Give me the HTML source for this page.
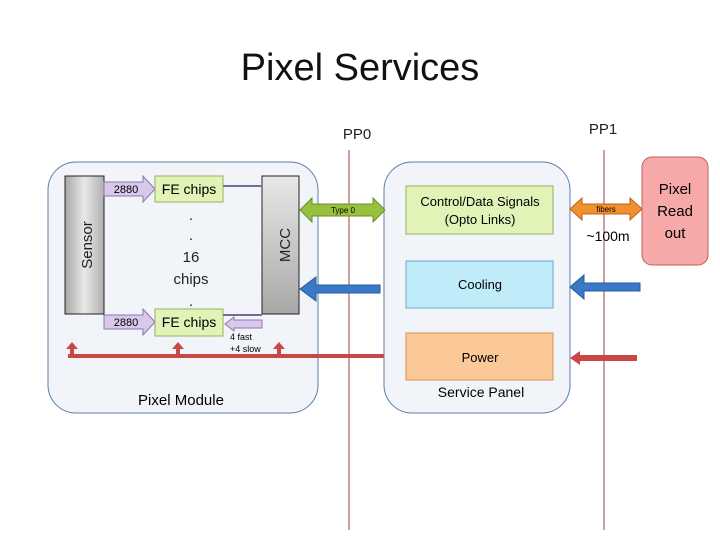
<!DOCTYPE html>
<html><head><meta charset="utf-8"><style>
body{margin:0;background:#fff}
svg text{font-family:"Liberation Sans",sans-serif}
</style></head><body>
<svg width="720" height="540" xmlns="http://www.w3.org/2000/svg">
<defs>
<linearGradient id="g" x1="0" x2="1"><stop offset="0" stop-color="#a8a8a8"/><stop offset=".5" stop-color="#e8e8e8"/><stop offset="1" stop-color="#b0b0b0"/></linearGradient>
<linearGradient id="gv" x1="0" y1="0" x2="0" y2="1"><stop offset="0" stop-color="#e8e8e8"/><stop offset="1" stop-color="#a8a8a8"/></linearGradient>
</defs>
<text x="360" y="80" font-size="38" text-anchor="middle" fill="#111">Pixel Services</text>
<text x="357" y="139" font-size="15" text-anchor="middle" fill="#222">PP0</text>
<text x="603" y="134" font-size="15" text-anchor="middle" fill="#222">PP1</text>
<rect x="48" y="162" width="270" height="251" rx="28" fill="#f1f5fa" stroke="#5b7fa8"/>
<rect x="384" y="162" width="186" height="251" rx="28" fill="#f1f5fa" stroke="#5b7fa8"/>
<line x1="349" y1="150" x2="349" y2="530" stroke="#a04040"/>
<line x1="604" y1="150" x2="604" y2="530" stroke="#a04040"/>
<rect x="65" y="176" width="39" height="138" fill="url(#g)" stroke="#222"/>
<text transform="translate(92,245) rotate(-90)" font-size="15" text-anchor="middle" fill="#222">Sensor</text>
<rect x="262" y="176" width="37" height="138" fill="url(#gv)" stroke="#222"/>
<text transform="translate(290,245) rotate(-90)" font-size="15" text-anchor="middle" fill="#222">MCC</text>
<g fill="#d8c8ec" stroke="#8a78a8">
<polygon points="104,182 143,182 143,176 155,189 143,202 143,196 104,196"/>
<polygon points="104,315 143,315 143,309 155,322 143,335 143,329 104,329"/>
</g>
<text x="126" y="193" font-size="11" text-anchor="middle">2880</text>
<text x="126" y="326" font-size="11" text-anchor="middle">2880</text>
<rect x="155" y="176" width="68" height="26" fill="#e2f3b8" stroke="#9ab060"/>
<rect x="155" y="309" width="68" height="27" fill="#e2f3b8" stroke="#9ab060"/>
<text x="189" y="194" font-size="14" text-anchor="middle">FE chips</text>
<text x="189" y="327" font-size="14" text-anchor="middle">FE chips</text>
<g font-size="15" text-anchor="middle" fill="#222"><text x="191" y="220">.</text><text x="191" y="240">.</text><text x="191" y="262">16</text><text x="191" y="284">chips</text><text x="191" y="306">.</text></g>
<line x1="223" y1="186" x2="262" y2="186" stroke="#7a6a98" stroke-width="2"/>
<line x1="223" y1="315" x2="262" y2="315" stroke="#7a6a98" stroke-width="2"/>
<polygon points="262,320 234,320 234,317 225,324 234,331 234,328 262,328" fill="#d8c8ec" stroke="#8a78a8"/>
<text x="230" y="340" font-size="9">4 fast</text><text x="230" y="352" font-size="9">+4 slow</text>
<polygon points="300,210 312,198 312,204 373,204 373,198 385,210 373,222 373,216 312,216 312,222" fill="#98c040" stroke="#6a9020"/>
<text x="343" y="213" font-size="8" text-anchor="middle">Type 0</text>
<polygon points="300,289 316,277 316,285 380,285 380,293 316,293 316,301" fill="#3a78c8" stroke="#2a5a9a"/>
<polygon points="570,287 584,275 584,283 640,283 640,291 584,291 584,299" fill="#3a78c8" stroke="#2a5a9a"/>
<rect x="68" y="354" width="316" height="4" fill="#c84848"/>
<g fill="#c84848"><rect x="70" y="348" width="4" height="8"/><polygon points="66,349 72,342 78,349"/>
<rect x="176" y="348" width="4" height="8"/><polygon points="172,349 178,342 184,349"/>
<rect x="277" y="348" width="4" height="8"/><polygon points="273,349 279,342 285,349"/>
<polygon points="570,358 580,351 580,355 637,355 637,361 580,361 580,365"/></g>
<rect x="406" y="186" width="147" height="48" fill="#e2f3b8" stroke="#9ab060"/>
<text x="480" y="206" font-size="13" text-anchor="middle">Control/Data Signals</text>
<text x="480" y="224" font-size="13" text-anchor="middle">(Opto Links)</text>
<rect x="406" y="261" width="147" height="47" fill="#c0ecfa" stroke="#6aa8c8"/>
<text x="480" y="289" font-size="13" text-anchor="middle">Cooling</text>
<rect x="406" y="333" width="147" height="47" fill="#fbc898" stroke="#d89050"/>
<text x="480" y="362" font-size="13" text-anchor="middle">Power</text>
<text x="481" y="397" font-size="14" text-anchor="middle">Service Panel</text>
<text x="181" y="405" font-size="15" text-anchor="middle">Pixel Module</text>
<polygon points="570,209 582,198 582,204 630,204 630,198 642,209 630,220 630,214 582,214 582,220" fill="#f09030" stroke="#c06010"/>
<text x="606" y="212" font-size="8" text-anchor="middle">fibers</text>
<text x="608" y="241" font-size="14" text-anchor="middle">~100m</text>
<rect x="642" y="157" width="66" height="108" rx="10" fill="#f7a8a8" stroke="#c06060"/>
<g font-size="15" text-anchor="middle"><text x="675" y="194">Pixel</text><text x="675" y="216">Read</text><text x="675" y="238">out</text></g>
</svg>
</body></html>
